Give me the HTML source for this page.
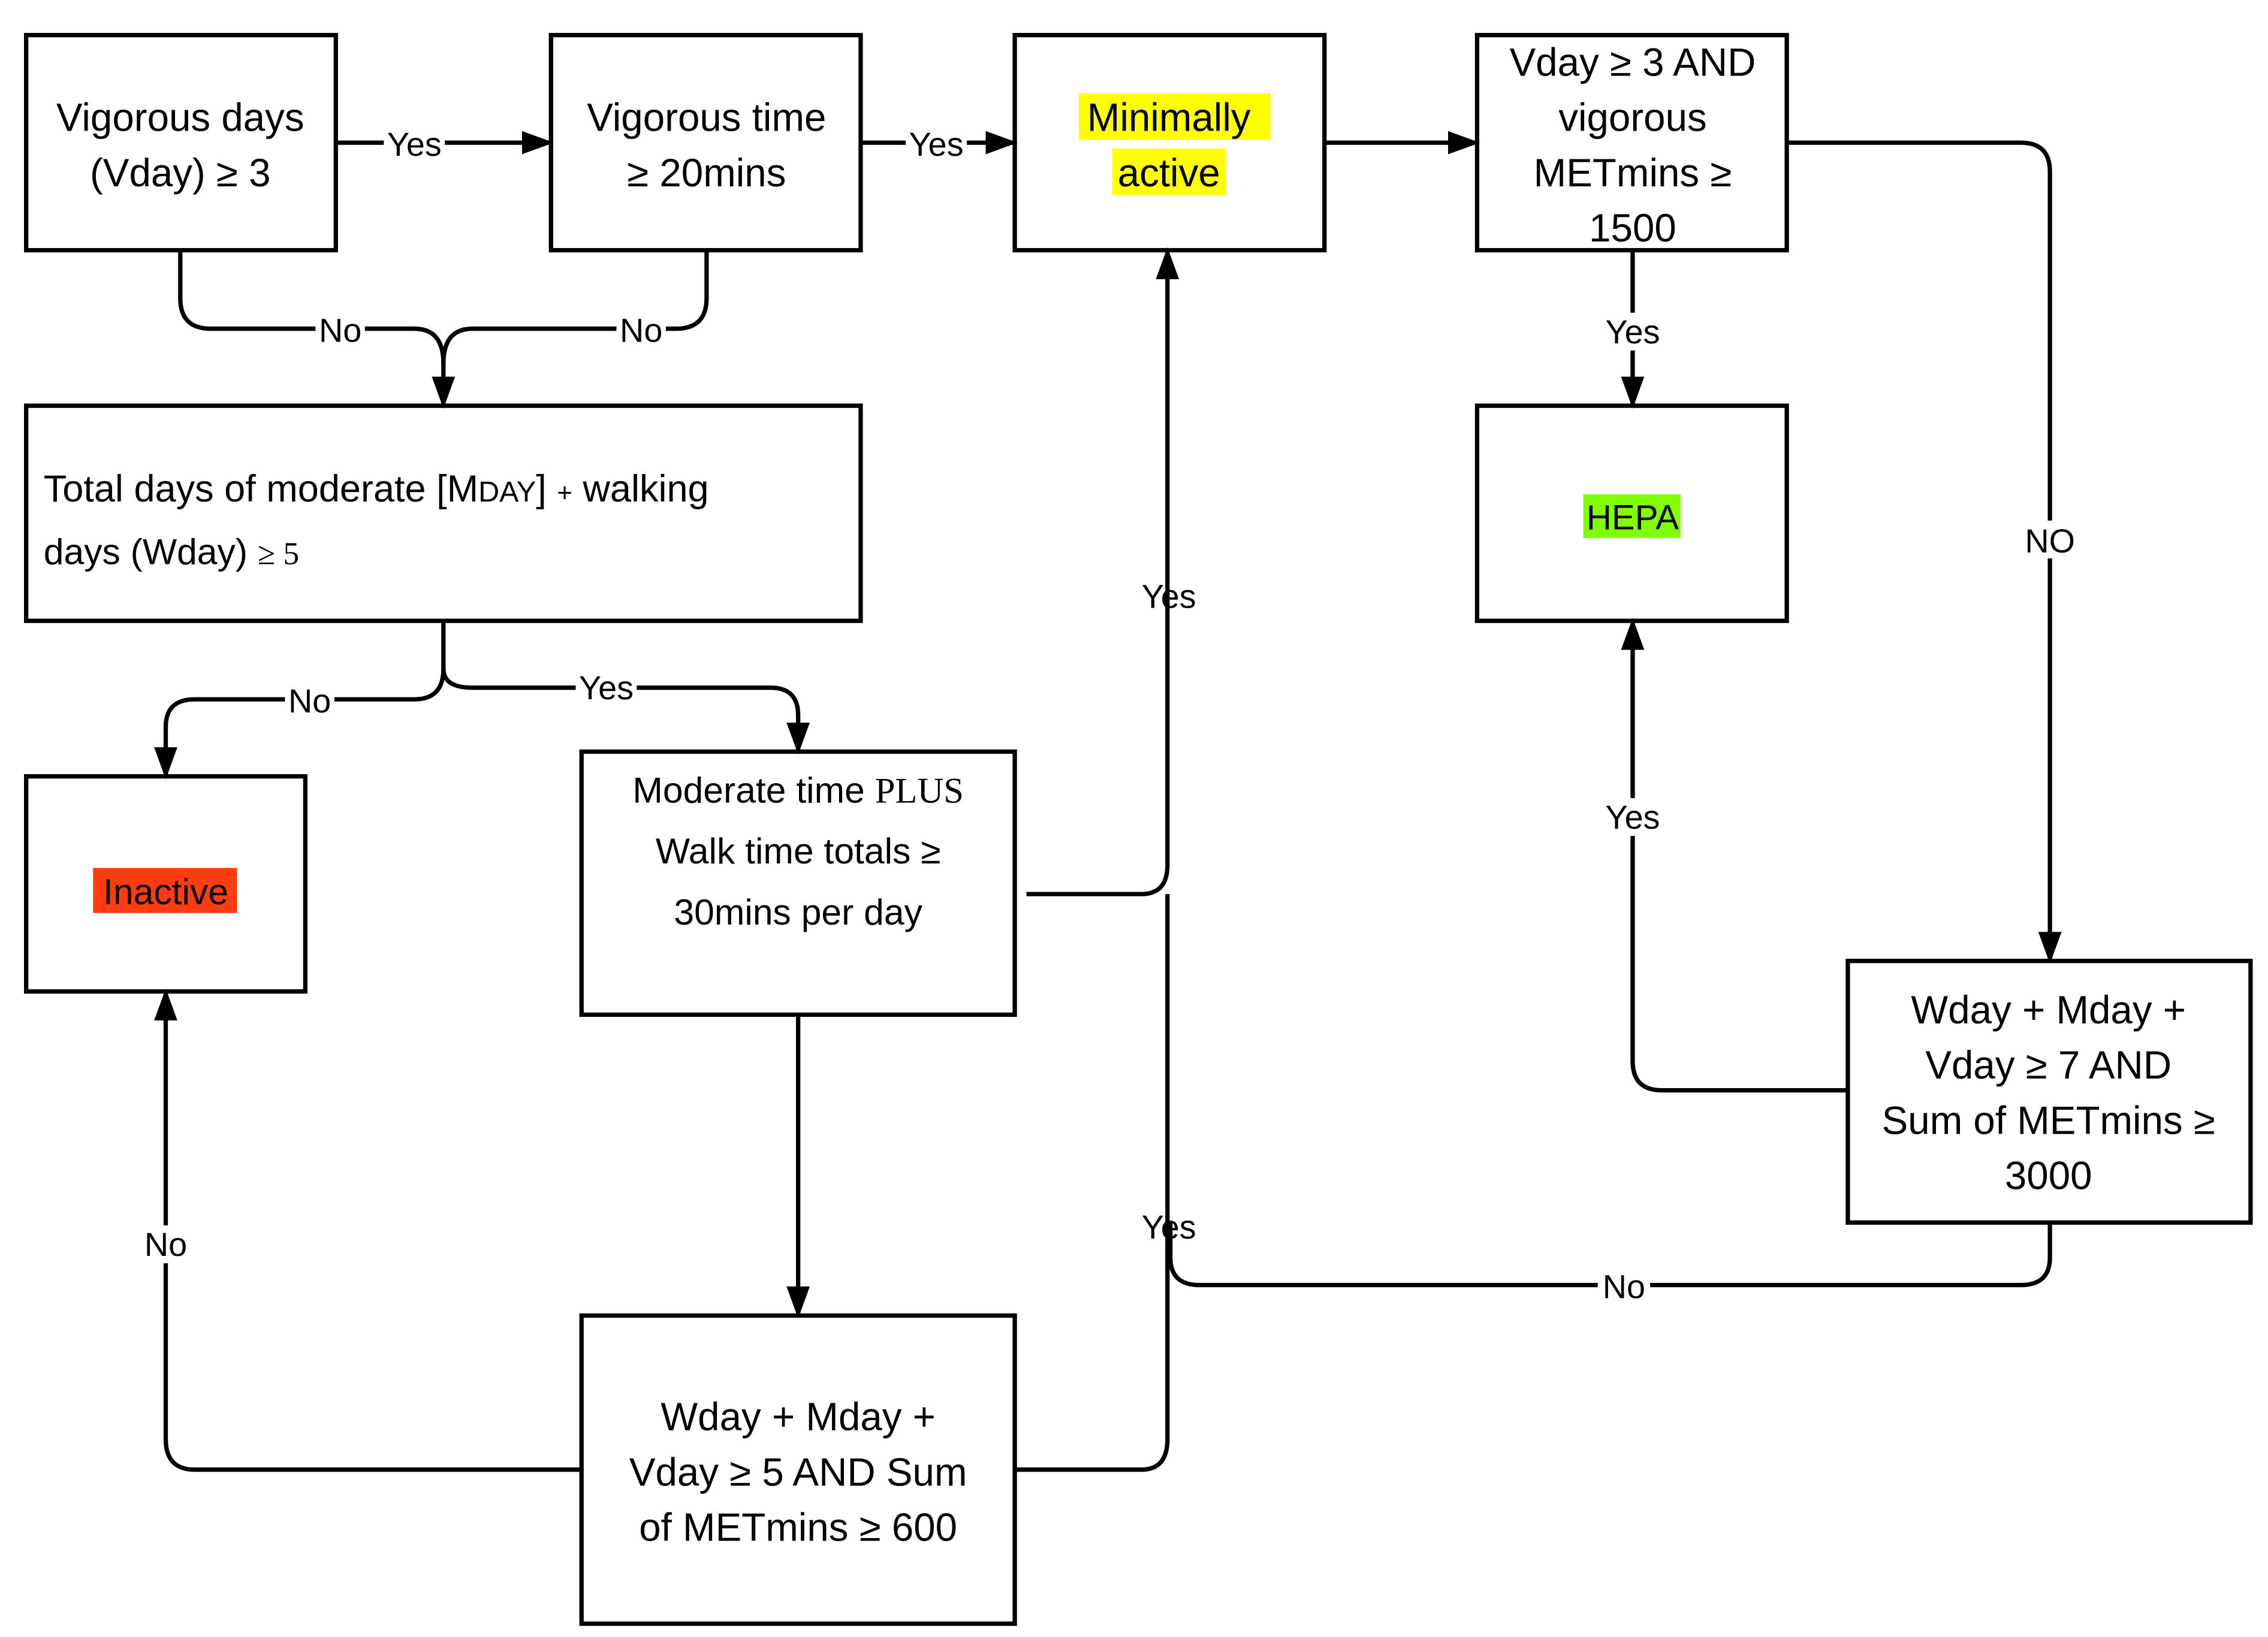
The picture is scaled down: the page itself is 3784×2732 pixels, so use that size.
<!DOCTYPE html>
<html><head><meta charset="utf-8"><style>html,body{margin:0;padding:0;background:#fff}svg{display:block}</style></head>
<body>
<svg width="3784" height="2732" viewBox="0 0 1560 1126" xmlns="http://www.w3.org/2000/svg" font-family="Liberation Sans, sans-serif">
<defs>
<marker id="b" markerWidth="22" markerHeight="22" refX="20" refY="11" orient="auto" markerUnits="userSpaceOnUse" viewBox="0 0 22 22"><path d="M0,3 L22,11 L0,19 z" fill="#000"/></marker></defs>
<rect width="1560" height="1126" fill="#fff"/>
<g fill="none" stroke="#000" stroke-width="3">
<rect x="18" y="24" width="213" height="148"/>
<rect x="379" y="24" width="213" height="148"/>
<rect x="698" y="24" width="213" height="148"/>
<rect x="1016" y="24" width="213" height="148"/>
<rect x="18" y="279" width="574" height="148"/>
<rect x="1016" y="279" width="213" height="148"/>
<rect x="18" y="534" width="192" height="148"/>
<rect x="400" y="517" width="298" height="181"/>
<rect x="1271" y="661" width="277" height="180"/>
<rect x="400" y="905" width="298" height="212"/>
</g>
<g fill="none" stroke="#000" stroke-width="3" marker-end="url(#b)">
<path d="M231,98 H379"/>
<path d="M592,98 H698"/>
<path d="M911,98 H1016"/>
<path d="M1229,98 H1390 Q1410,98 1410,118 V661"/>
<path d="M1123,172 V279"/>
<path d="M124,172 V205 Q124,226 145,226 H285 Q305,226 305,250 V279"/>
<path d="M305,427 V460 Q305,481 285,481 H134 Q114,481 114,500 V534"/>
<path d="M305,460 Q305,473 325,473 H530 Q549,473 549,492 V517"/>
<path d="M706,615 H785 Q803,615 803,595 V172"/>
<path d="M549,698 V905"/>
<path d="M400,1011 H134 Q114,1011 114,990 V682"/>
<path d="M1271,750 H1143 Q1123,750 1123,730 V427"/>
</g>
<g fill="none" stroke="#000" stroke-width="3">
<path d="M486,172 V205 Q486,226 465,226 H325 Q305,226 305,250"/>
<path d="M698,1011 H785 Q803,1011 803,990 V615"/>
<path d="M1410,841 V865 Q1410,884 1390,884 H825 Q805,884 805,865 V840"/>
</g>
<g fill="#fff">
<rect x="264" y="86" width="42" height="26"/><rect x="623" y="86" width="42" height="26"/>
<rect x="217" y="214" width="34" height="26"/><rect x="424" y="214" width="34" height="26"/>
<rect x="196" y="469" width="34" height="26"/><rect x="396" y="460" width="42" height="26"/>
<rect x="1101" y="215" width="44" height="26"/><rect x="1390" y="358" width="40" height="26"/>
<rect x="1101" y="549" width="44" height="26"/><rect x="96" y="843" width="36" height="26"/>
<rect x="1099" y="871" width="36" height="26"/>
</g>
<rect x="742" y="64" width="132" height="32" fill="#ffff00"/>
<rect x="765" y="102" width="78" height="32" fill="#ffff00"/>
<rect x="1089" y="340" width="67" height="30" fill="#80ff00"/>
<rect x="64" y="597" width="99" height="31" fill="#ff3b10"/>
<g font-size="27" text-anchor="middle" fill="#000">
<text x="124" y="90">Vigorous days</text><text x="124" y="128">(Vday) ≥ 3</text>
<text x="486" y="90">Vigorous time</text><text x="486" y="128">≥ 20mins</text>
<text x="804" y="90">Minimally</text><text x="804" y="128">active</text>
<text x="1123" y="52">Vday ≥ 3 AND</text><text x="1123" y="90">vigorous</text><text x="1123" y="128">METmins ≥</text><text x="1123" y="166">1500</text>
<text x="1123" y="364" font-size="24">HEPA</text>
<text x="114" y="622" font-size="25">Inactive</text>
<text x="549" y="552" font-size="25">Moderate time <tspan font-family="Liberation Serif, serif">PLUS</tspan></text>
<text x="549" y="594" font-size="25">Walk time totals ≥</text><text x="549" y="636" font-size="25">30mins per day</text>
<text x="1409" y="704">Wday + Mday +</text><text x="1409" y="742">Vday ≥ 7 AND</text><text x="1409" y="780">Sum of METmins ≥</text><text x="1409" y="818">3000</text>
<text x="549" y="984">Wday + Mday +</text><text x="549" y="1022">Vday ≥ 5 AND Sum</text><text x="549" y="1060">of METmins ≥ 600</text>
</g>
<text x="30" y="345" font-size="26">Total days of moderate [M<tspan font-size="20">DAY</tspan>]  <tspan font-size="18">+</tspan> walking</text>
<text x="30" y="388" font-size="25">days (Wday) <tspan font-family="Liberation Serif, serif" font-size="22">≥ 5</tspan></text>
<g font-size="23" text-anchor="middle" fill="#000">
<text x="285" y="107">Yes</text><text x="644" y="107">Yes</text>
<text x="234" y="235">No</text><text x="441" y="235">No</text>
<text x="213" y="490">No</text><text x="417" y="481">Yes</text>
<text x="1123" y="236">Yes</text><text x="1410" y="380">NO</text>
<text x="804" y="418">Yes</text><text x="1123" y="570">Yes</text>
<text x="114" y="864">No</text><text x="804" y="852">Yes</text>
<text x="1117" y="893">No</text>
</g>
</svg>
</body></html>
